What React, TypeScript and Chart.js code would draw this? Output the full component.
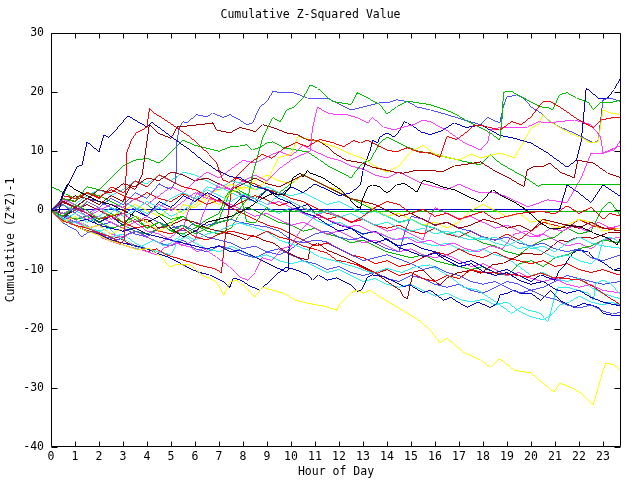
import React, { useEffect, useRef } from 'react';
import { Chart, registerables } from 'chart.js';
Chart.register(...registerables);

type P = [number, number];

const titleText = 'Cumulative Z-Squared Value';
const xTitle = 'Hour of Day';
const yTitle = 'Cumulative (Z*Z)-1';
const xTicks = [0, 1, 2, 3, 4, 5, 6, 7, 8, 9, 10, 11, 12, 13, 14, 15, 16, 17, 18, 19, 20, 21, 22, 23];
const yTicks = [-40, -30, -20, -10, 0, 10, 20, 30];

const navyEarly: P[] = [[0,0],[0.3,1],[0.7,4.3],[1.1,7.4],[1.3,7.7],[1.5,11.6],[2,9.9],[2.2,12.8],[2.4,12.3],[2.9,14.5],[3.2,16],[4,14.1],[4.2,14.9],[5.2,11.9],[5.8,10.2],[6.3,8.5],[6.9,6.8],[7.5,5.7],[7.9,5.5],[8.4,4.2],[9,3.5],[9.5,2],[10,1.2],[10.5,-0.3],[11,-1],[11.5,-2.3],[12,-3.5],[12.5,-3],[13,-4.6],[13.5,-5.5],[14,-4.8],[14.5,-6.3],[15,-7],[15.5,-7.8],[16,-7.2],[16.5,-8.5],[17,-9.5],[17.5,-9],[18,-10.3],[18.5,-11],[19,-10.5],[19.5,-11.8],[20,-12.5],[20.5,-12],[21,-13.3],[21.5,-14],[22,-13.5],[22.5,-14.7],[23,-15.5],[23.75,-16.2]];
const navyTop: P[] = [[0,0],[0.5,-1.5],[1,0.5],[1.5,-0.5],[2,-2],[2.5,-1],[3,-2.5],[3.5,0],[4,-1],[4.5,1.5],[5,0.5],[5.5,2.5],[6,1.5],[6.5,3],[7,2],[7.5,0.5],[8,2.5],[8.5,1.5],[9,3.5],[9.5,2.5],[10,4],[10.5,3],[11,4.5],[11.5,3.5],[12,2.5],[12.5,3],[12.9,4.3],[13,6.8],[13.3,10.2],[13.4,11.9],[13.6,11.4],[13.7,12.4],[14,13.1],[14.3,12.4],[14.55,13.6],[14.7,15],[14.85,14.8],[15.1,14.2],[15.4,13.3],[15.8,12.8],[16.3,13.5],[16.8,14.8],[17.3,14],[17.9,14.5],[18.7,12.7],[19.3,12.2],[20,11.4],[20.7,9.7],[21.5,7.3],[21.9,8.5],[22.1,11.9],[22.3,20.7],[22.8,19],[23.2,19],[23.45,20.4],[23.75,22.5]];
const greenTop: P[] = [[0,0],[0.5,-1],[1,1],[1.5,0],[2,-1.5],[2.5,-0.5],[3,-2],[3.5,-1],[4,-3],[4.5,-2],[5,-3.5],[5.5,-2.5],[6,-4],[6.5,-3],[7,-2],[7.5,-1.5],[7.9,0.5],[8.2,2],[8.4,6],[8.6,9],[8.83,12.4],[9.25,15.7],[9.55,15],[9.83,17],[10.1,17.4],[10.5,19],[10.8,21.2],[11.1,20.7],[11.5,19.2],[11.75,18.4],[12.5,17.9],[12.75,19.9],[13.2,19],[13.7,17.9],[14,16.3],[14.4,17.5],[14.85,18.5],[15.25,18.2],[15.8,17.9],[16.3,17.2],[16.8,16.4],[17.3,15.2],[17.9,14],[18.3,13.1],[18.7,11.9],[18.8,15.7],[18.85,19.9],[19,20.2],[19.2,20.1],[19.7,19],[20.4,17.5],[20.7,17.4],[20.9,17],[21.2,19.6],[21.5,19.9],[21.9,19],[22.4,18.2],[22.6,17],[22.9,18.2],[23.3,18.2],[23.75,18.7]];
const lightBlueTop: P[] = [[0,0],[0.5,1],[1,-0.5],[1.5,1.5],[2,0.5],[2.5,2],[3,1],[3.5,3],[4,2],[4.5,4.5],[5,3.5],[5.2,5],[5.25,11.9],[5.36,14.1],[5.5,15],[5.65,14.8],[6.07,16.2],[6.5,15.8],[6.74,16.5],[7.16,15.7],[7.45,16.2],[7.87,15.3],[8.15,14.5],[8.4,14.8],[8.7,17.5],[9,18.4],[9.25,20.2],[9.55,19.9],[10.1,19.9],[10.7,19],[11.5,19],[11.9,18.2],[12.5,17],[13,17.5],[13.7,18.2],[14,18.2],[14.4,18.7],[14.85,18.4],[15.25,17.5],[15.8,17],[16.5,16.2],[17.2,15.3],[17.9,14.5],[18.2,15.7],[18.4,15.3],[18.7,14.8],[18.85,17.6],[19,19.2],[19.4,19.5],[19.7,19],[20,17.5],[20.4,16.5],[20.7,15.3],[21.2,14.1],[21.8,13.1],[22.2,12.3],[22.6,11.4],[22.8,11.9],[22.9,15.3],[23,18.7],[23.3,19],[23.75,18.4]];
const yellowTop: P[] = [[0,0],[0.5,-2],[1,-1],[1.5,-3],[2,-2.5],[2.5,-4],[3,-3],[3.5,-1],[4,-2],[4.5,-3.5],[5,-2.5],[5.5,1],[6,0.5],[6.5,2],[7,1],[7.5,3],[8,4],[8.5,3.5],[9,5],[9.5,9],[10,9.5],[10.3,12.5],[10.8,12],[11.5,11.2],[12,10.5],[12.5,9.5],[13,8.8],[13.5,7.5],[14,6.5],[14.5,7.5],[15,10],[15.5,11],[16,9.5],[16.5,9],[17,8.5],[17.5,9.5],[17.9,8.9],[18.4,9.4],[18.7,9.7],[19.3,8.9],[19.7,11.6],[20,14],[20.3,14.5],[20.5,16.2],[20.8,15],[21.5,13.3],[22.1,12.3],[22.5,11.4],[22.8,11.6],[23,17],[23.3,16.5],[23.75,16.2]];
const redTop: P[] = [[0,0],[0.2,-0.8],[0.5,-1.8],[1,-2.5],[1.5,-3],[2,-3.8],[2.5,-4.5],[2.9,-5.6],[3.05,-5],[3.1,2],[3.15,9.7],[3.35,11.9],[3.55,13.1],[3.8,13.6],[4,14.1],[4.1,17.2],[4.25,16.6],[4.65,15.6],[5.2,14.1],[5.8,12.4],[6.2,11],[6.6,9.4],[6.9,8],[7.15,5.2],[7.45,4.7],[7.9,6.4],[8.3,8],[8.8,9.5],[9.2,8.8],[9.7,10.5],[10.2,11.5],[10.7,10.8],[11.2,12],[11.7,11.5],[12.2,10.8],[12.6,11.8],[12.9,11.4],[13.2,11.9],[13.4,11.4],[13.7,10.8],[14,10.2],[14.4,9.9],[14.85,10.6],[15.3,9.9],[15.8,9.7],[16.2,9],[16.5,12.5],[16.9,12],[17.3,13.2],[17.6,14.3],[17.9,14.4],[18.2,14.1],[18.7,13.6],[19.2,15],[19.6,14.5],[20,15.8],[20.5,18.4],[20.8,18.4],[21.2,17.5],[21.8,15.8],[22.2,14.8],[22.6,14],[22.9,15.3],[23.45,15.7],[23.75,15.8]];
const darkRedTop: P[] = [[0,0],[0.5,1.5],[1,0.5],[1.5,2],[2,1],[2.5,2.5],[3,1.5],[3.3,4],[3.5,3.5],[3.8,6],[4.1,14.5],[4.5,13],[5,12.2],[5.25,14.1],[6.2,14.5],[6.75,14.8],[6.9,13.6],[7.45,13.1],[7.87,14],[8.3,13.6],[8.5,13.3],[8.83,14.5],[9.25,14],[9.83,13.1],[10.25,12.8],[10.7,11.9],[11.1,11.9],[11.5,10.8],[11.9,9.4],[12.3,8.5],[12.75,8.2],[13,8],[13.4,7.3],[14,6.8],[14.4,6.4],[14.7,6.3],[15.25,6.8],[15.8,6.8],[16.3,6.5],[16.8,7.5],[17.3,7.8],[17.9,8.2],[18.4,6.9],[19.2,5.2],[19.7,4],[19.85,6.9],[20.1,7.4],[20.5,7.4],[20.8,8],[21.2,6.5],[21.8,5.5],[21.95,8.5],[22.6,8],[23.2,6.3],[23.75,5.5]];
const magentaTop: P[] = [[0,0],[0.5,1.8],[1,1],[1.5,-0.5],[2,0.5],[2.5,-1.5],[3,-0.5],[3.5,-2],[4,-1],[4.5,1],[5,0],[5.5,1.5],[6,3],[6.5,2],[7,4.5],[7.5,3.5],[8,5],[8.5,6],[9,5],[9.5,7],[10,8.5],[10.5,9.5],[10.8,10],[10.9,14],[11.1,17.5],[11.5,16.5],[11.9,16.2],[12.3,16.2],[12.75,15.7],[13.2,14.8],[13.4,15.7],[13.85,14.1],[14.3,13.6],[14.7,14.1],[15.1,14.5],[15.5,15.3],[15.8,15],[16.5,13.5],[17.2,11.5],[17.9,10.2],[18.2,11.6],[18.3,13.6],[18.7,14],[19.3,14],[19.85,14.1],[20.3,15],[20.7,14.8],[21.8,15.3],[22.5,14.5],[22.9,12.4],[23,9.7],[23.45,10.2],[23.75,11.9]];
const magentaUpper: P[] = [[0,0],[0.5,-0.5],[1,0.5],[1.5,-1],[2,0],[2.5,1],[3,0.5],[3.5,2],[4,1],[4.5,2.5],[5,4],[5.5,3],[6,5],[6.5,6.5],[7,5.5],[7.5,7],[8,8.5],[8.5,8],[9,9],[9.5,10],[10,9.2],[10.5,11],[11,10],[11.5,9],[12,8.5],[12.5,7.5],[13,7],[13.5,6],[14,5.5],[14.5,6.5],[15,5.5],[15.5,4.5],[16,4],[16.5,3.5],[17,4.5],[17.5,3.5],[17.9,3],[18.4,3.1],[19,2.3],[19.85,0.6],[20.7,1.8],[21.5,1.3],[22.1,5.6],[22.5,9.7],[23,9.7],[23.75,11]];
const greenFlatHigh: P[] = [[0,0],[0.5,2],[1,1.5],[1.5,4],[2,3.5],[2.5,5.5],[3,7.5],[3.5,8.5],[4,8.8],[4.5,8],[5,9.8],[5.5,11.9],[6,11],[6.5,10.5],[7,10],[7.5,10.8],[7.87,10.9],[8.15,11.1],[8.4,10.2],[8.7,10.7],[9,11.4],[9.25,11.6],[9.7,10.6],[10.25,10.2],[10.7,9.9],[11.2,8.5],[11.6,7.4],[12.05,6.5],[12.5,5.5],[12.75,6.9],[13,8],[13.3,8.5],[13.7,11.4],[14,12.4],[14.4,11.6],[14.85,10.7],[15.4,9.9],[15.8,9.7],[16.5,9],[17.2,8.3],[17.9,7.7],[18.3,9.4],[18.7,8],[19.7,5.7],[20.3,4.1],[20.5,4.4],[23.75,4.4]];
const greenFlatZero: P[] = [[0,4],[0.3,3.5],[0.6,2.8],[1,2],[1.5,3],[2,2.5],[2.5,1.5],[3,0.5],[3.5,2],[4,1],[4.5,-0.5],[5,-1.5],[5.5,-1],[6,-2.5],[6.5,-3],[7,-1.5],[7.5,3.5],[7.87,3],[8.15,-1.9],[8.5,-2.1],[9,0.6],[9.05,-0.1],[23.75,-0.1]];
const navyZero: P[] = [[0,0.2],[21.2,0.2],[21.5,4.3],[21.95,3.1],[22.5,1.3],[23,4.3],[23.75,2.3]];
const blackMid: P[] = [[0,0],[0.3,-1],[0.5,3],[0.7,4.5],[1,3.5],[1.5,2.5],[2,1.5],[2.5,1],[3,0],[3.5,-1],[4,-2],[4.5,-1],[5,-3],[5.5,-4.5],[6,-3.5],[6.5,-2],[7,-1.5],[7.5,-1],[7.87,-0.3],[8.3,0.6],[8.7,1.8],[9.25,2.9],[9.7,2.6],[9.95,3.9],[10.1,5.6],[10.4,6.3],[10.5,5.6],[10.7,6.8],[10.8,6.3],[11.3,5.6],[12.05,3.6],[12.75,0.6],[12.9,0.4],[13,2.1],[13.2,4],[13.4,4.3],[13.7,4],[14,2.9],[14.4,4.3],[14.7,4.6],[15,3.8],[15.25,3.1],[15.5,5.1],[15.8,4.8],[16.3,4],[16.8,3.5],[17.3,2.5],[17.9,1.4],[18.4,3.5],[18.85,2.3],[19.3,1.4],[19.7,0.4],[20.4,-2.1],[20.8,-3.1],[21.2,-3.1],[21.5,-2.5],[22.1,-2.8],[22.6,-3.8],[23.2,-4.7],[23.6,-5.8],[23.75,-4.5]];
const cyanMid: P[] = [[0,0],[0.5,-1.5],[1,-0.5],[1.5,-2],[2,-1],[2.5,0.5],[3,-1],[3.5,0],[4,1.5],[4.5,0.5],[5,2],[5.5,3],[6,2],[6.5,3.5],[7,2.5],[7.5,1.5],[8,2.8],[8.5,2],[9,1],[9.5,2.5],[10,1.5],[10.5,0.5],[11,-0.5],[11.5,-0.2],[12,-1.2],[12.5,-0.5],[13,-1.5],[13.5,-2.5],[14,-2],[14.5,-3],[15,-3.5],[15.5,-3],[16,-4],[16.5,-3.5],[17,-4.5],[17.5,-5],[18,-4.5],[18.5,-5.5],[19,-6],[19.5,-5],[20,-6.5],[20.5,-6],[21,-7],[21.5,-5.5],[22,-4.5],[22.5,-5.5],[23,-6],[23.75,-6.4]];
const cyanLow: P[] = [[0,0],[0.4,-1],[0.8,-2.2],[1.2,-1.8],[1.6,-3],[2,-3.5],[2.4,-3],[2.8,-4.5],[3.2,-5.2],[3.6,-6.5],[3.9,-5.8],[4.3,-5],[4.7,-6],[5,-5.5],[5.5,-4],[6,-5],[6.5,-4],[7,-3.5],[7.5,-2.5],[7.87,-2.1],[8.4,-2.8],[9,-3.6],[9.5,-5],[10.1,-5.8],[10.7,-6.7],[11.2,-7.9],[12,-8.7],[12.75,-9.7],[13.4,-10.6],[14,-9.8],[14.6,-10.5],[15.2,-9.5],[15.8,-9.2],[16.65,-11.3],[17.2,-13],[17.8,-13.5],[18.6,-15.7],[19.2,-17.4],[19.6,-16.3],[19.85,-16.8],[20.4,-17.4],[20.7,-18.9],[20.95,-15.2],[21.1,-13.1],[21.5,-13],[21.95,-13.5],[22.4,-14],[22.6,-15.2],[22.7,-12.3],[23,-11.8],[23.3,-12.3],[23.75,-14.3]];
const cyanUpper: P[] = [[0,0],[0.5,1],[1,0],[1.5,-1],[2,0.5],[2.5,-0.5],[3,1.5],[3.5,0.5],[4,-0.5],[4.5,0.5],[5,-1],[5.5,0],[6,1.5],[6.5,4],[7,3.5],[7.5,5],[8,4.5],[8.5,3.5],[9,4],[9.5,3],[10,2.5],[10.5,3],[11,2],[11.5,1],[12,1.5],[12.5,0.5],[13,-0.5],[13.5,-0.2],[14,-1],[14.5,-2],[15,-1.5],[15.5,-2.5],[16,-3],[16.5,-4],[17,-3.5],[17.5,-4.5],[18,-5],[18.5,-4.5],[19,-5.5],[19.5,-6.5],[20,-6],[20.5,-7],[21,-8],[21.5,-7.5],[22,-8.5],[22.5,-9],[22.8,-8],[23,-5],[23.3,-4.5],[23.75,-5.5]];
const cyanLowLeft: P[] = [[0,0],[0.5,-1.5],[1,-2],[1.5,-3],[2,-3.5],[2.5,-4.5],[3,-4],[3.5,-5.5],[4,-6.5],[4.5,-7],[5,-7.5],[5.3,-5],[5.6,-4.5],[6,-5.5],[6.5,-6.5],[7,-7],[7.5,-6],[8,-7],[8.5,-8],[9,-7.5],[9.5,-8.5],[10,-9],[10.5,-8.5],[11,-9.5],[11.5,-10.5],[12,-10],[12.5,-11],[13,-12],[13.5,-11.5],[14,-12.5],[14.5,-13],[15,-12.5],[15.5,-13.5],[16,-14.5],[16.5,-14],[17,-15],[17.5,-15.5],[18,-15],[18.5,-16],[19,-15.5],[19.5,-17],[20,-18],[20.5,-18.5],[20.9,-17.5],[21.2,-16],[21.6,-15.5],[22,-14.5],[22.5,-15.5],[23,-16],[23.3,-15.5],[23.75,-16]];
const redLow: P[] = [[0,0],[0.5,1.5],[1,0.5],[1.5,-0.5],[2,-1.5],[2.5,-1],[3,-2],[3.5,-3],[4,-2.5],[4.5,-3.5],[5,-4],[5.5,-3],[6,-4.5],[6.5,-5],[7,-4],[7.5,-3.5],[8,-4],[8.5,-4.5],[9,-3.5],[9.5,-4.5],[10,-5],[10.5,-6],[11.1,-6.7],[11.5,-7.2],[11.9,-8.4],[12.3,-8.7],[12.75,-9.2],[13.2,-10.1],[13.6,-10.6],[14,-10],[14.5,-11],[15,-10.5],[15.5,-11.5],[16,-12],[16.5,-11],[17,-11.5],[17.5,-10],[18,-10.5],[18.6,-10.6],[19.3,-10.9],[19.85,-11.3],[20.4,-10.6],[20.95,-11.4],[21.2,-11.4],[22.1,-11.8],[22.6,-12.9],[23.2,-14.6],[23.75,-16]];
const darkRedLow: P[] = [[0,0],[0.5,-1],[1,0],[1.5,1],[2,0],[2.5,-1],[3,-0.5],[3.5,-2],[4,-1.5],[4.5,-3],[5,-2.5],[5.5,-1.5],[6,-2],[6.5,-3],[7,-3.5],[7.5,-4],[7.87,-4.5],[8.15,-5],[8.4,-4.2],[8.83,-5],[9.25,-5.5],[9.8,-7],[10.25,-7.9],[10.7,-8.4],[10.8,-6.2],[11.1,-5.5],[11.5,-6.7],[12,-7.5],[12.5,-8.5],[13,-9.5],[13.5,-10.5],[14,-12],[14.55,-13.5],[14.7,-14.7],[14.85,-14.9],[14.95,-13],[15.1,-10.4],[15.5,-10.1],[15.8,-11.3],[16.2,-12.6],[16.5,-11.4],[16.9,-10.6],[17.5,-10.1],[17.9,-10.6],[18.4,-9.2],[18.85,-8.9],[19.3,-8],[19.7,-7.2],[20.4,-7.5],[20.7,-6.7],[20.95,-5.8],[21.2,-5],[21.5,-5.3],[21.8,-4.7],[22.1,-4.5],[22.6,-4.7],[23.2,-3.8],[23.75,-3.8]];
const redNearZero: P[] = [[0,0],[0.3,1],[0.5,2.5],[1,2],[1.5,3],[2,2.2],[2.5,3.5],[3,2.5],[3.5,1.8],[4,3],[4.5,2],[5,1.5],[5.5,2.8],[6,2],[6.5,1],[7,1.8],[7.5,0.5],[8,1.5],[8.5,2.5],[9,1.8],[9.5,0.8],[10,1.5],[10.5,0.5],[11,-0.5],[11.5,-1.5],[12,-1],[12.5,-2],[13,-1],[13.5,0.5],[14,1.5],[14.5,1],[15,-0.5],[15.5,0.2],[16,-1],[16.5,-0.5],[17,-1.5],[17.5,-0.8],[18,-0.2],[18.5,-1.5],[19,-1],[19.5,-0.5],[20,-0.3],[20.5,-0.2],[21,-0.6],[21.5,0.8],[22,-0.5],[22.5,0.5],[23,-1.5],[23.3,-0.5],[23.75,-1]];
const redJump: P[] = [[0,0],[0.4,-1.5],[0.8,-2],[1.2,-3],[1.6,-3.5],[2,-4],[2.4,-5],[2.8,-4.5],[3.2,-5.5],[3.6,-6],[4,-7],[4.4,-6.5],[4.8,-7.5],[5.2,-8],[5.6,-8.5],[6,-9],[6.4,-9.5],[6.8,-9.8],[7.1,-10.5],[7.3,-3],[7.5,3],[7.7,5.5],[8,5],[8.5,4.5],[9,3.5],[9.5,3],[10,2],[10.5,1.5],[11,0.5],[11.5,-0.5],[12,-1],[12.5,-2],[13,-1.5],[13.5,-2.5],[14,-3],[14.5,-2.5],[15,-3.5],[15.5,-4],[16,-3],[16.5,-4],[17,-4.5],[17.5,-3.5],[18,-4.5],[18.5,-5],[19,-4],[19.5,-5],[20,-3.5],[20.5,-2],[21,-2.5],[21.5,-3],[22,-1.5],[22.5,-2.5],[23,-3],[23.75,-3]];
const lightBlueLow: P[] = [[0,0],[0.5,-2.1],[0.8,-2.8],[1.05,-3.3],[1.27,-4.5],[1.5,-3.8],[1.9,-3.6],[2.3,-4.5],[2.8,-5],[3.2,-4],[3.6,-3.5],[4,-4.5],[4.5,-3],[5,-2.5],[5.5,-3.5],[6,-2],[6.5,-2.5],[7,-2],[7.5,-1.5],[7.87,-2],[8.5,-2.5],[9,-2.8],[9.5,-3.5],[10,-5],[10.5,-5.5],[11,-5],[11.5,-5.3],[12,-6.5],[12.5,-7.5],[13,-8.5],[13.5,-8],[14,-7.5],[14.5,-8.2],[15,-9],[15.5,-10],[16,-9.5],[16.5,-10.5],[17,-11],[17.5,-12],[18,-12.5],[18.5,-12],[19,-13],[19.5,-14],[20,-13.5],[20.5,-14.5],[21,-15],[21.5,-16],[22,-16.5],[22.5,-16],[23,-17],[23.4,-17.5],[23.75,-17.2]];
const lightBlueMid: P[] = [[0,0],[0.5,1.5],[1,0.5],[1.5,2],[2,1.5],[2.5,0.5],[3,-0.5],[3.5,0.5],[4,-1],[4.5,-2],[5,-3],[5.5,-2.5],[6,-3.5],[6.5,-4.5],[7,-5],[7.5,-5.5],[8,-6.5],[8.5,-6],[9,-7],[9.5,-7.5],[10,-6.5],[10.5,-5],[11,-4],[11.5,-3.5],[12,-4.5],[12.5,-5],[13,-4.5],[13.5,-5.5],[14,-6.5],[14.5,-7],[14.8,-3],[15,-1],[15.5,-1.5],[16,-2.5],[16.5,-2],[17,-3],[17.5,-3.5],[18,-4.5],[18.5,-5],[19,-4.5],[19.5,-5.5],[20,-6],[20.5,-5.5],[21,-6.5],[21.5,-7],[22,-6.5],[22.5,-8],[23,-8.5],[23.75,-7.5]];
const magentaLow: P[] = [[0,0],[0.5,-1],[1,-2],[1.5,-2.5],[2.15,-4.7],[2.7,-5.5],[3.3,-6.2],[3.8,-6.7],[4.4,-7.5],[4.7,-6.4],[5.2,-5.5],[5.8,-6.2],[6.1,-7],[6.35,-6.4],[6.9,-7.9],[7.45,-9.6],[7.9,-11.3],[8.2,-11.8],[8.5,-10.5],[8.8,-8],[9.2,-8.5],[9.6,-6.5],[10,-6],[10.4,-3.3],[10.7,-2.1],[10.9,-1.3],[11.3,-1.1],[11.8,-2],[12.3,-2.8],[12.8,-2.5],[13.3,-3.5],[13.8,-4],[14.3,-5],[14.8,-4.5],[15.3,-5.5],[15.8,-5],[16.3,-6],[16.8,-5.5],[17.3,-6.5],[17.8,-7],[18.3,-6],[18.8,-6.5],[19.3,-4],[19.8,-3.5],[20.3,-4.5],[20.8,-3],[21.3,-3.5],[21.8,-2.5],[22.3,-3.5],[22.8,-2],[23.3,-3],[23.75,-2.5]];
const magentaDown: P[] = [[0,0],[0.5,1],[1,-0.5],[1.5,-1.5],[2,-1],[2.5,-2],[3,-3],[3.5,-2],[4,-3.5],[4.5,-4],[5,-5],[5.5,-6],[6,-5],[6.3,-1],[6.6,2],[7,1.5],[7.5,1],[8,0],[8.5,-1],[9,-0.5],[9.5,-1.5],[10,-2.5],[10.5,-2],[11,-3],[11.5,-4],[12,-3.5],[12.5,-4.5],[13,-5.5],[13.5,-5],[14,-6],[14.5,-7],[15,-6.5],[15.5,-7.5],[16,-8],[16.5,-7.5],[17,-8.5],[17.5,-9.5],[18,-9],[18.5,-10],[19,-11],[19.5,-10.5],[20,-11.5],[20.5,-12],[21,-11.5],[21.5,-12.5],[22,-13],[22.5,-12.5],[23,-13.5],[23.75,-14]];
const greenLow: P[] = [[0,0],[0.5,-1],[1,0.5],[1.5,-0.5],[2,-2],[2.5,-1],[3,-2.5],[3.5,-1.5],[4,-3],[4.5,-2],[5,-3.5],[5.5,-4],[6,-3],[6.5,-1.5],[7,-0.5],[7.3,2.5],[7.6,4],[8,3],[8.5,2],[9,3.5],[9.5,3],[10,4.5],[10.5,6],[11,5],[11.5,4],[12,3],[12.5,2],[13,1],[13.5,0],[14,-1],[14.5,-2],[15,-1.5],[15.5,-2.5],[16,-3],[16.5,-4],[17,-3.5],[17.5,-4.5],[18,-5.5],[18.5,-6],[19,-7],[19.5,-7.5],[20,-6],[20.5,-5],[21,-4.5],[21.5,-3],[22,-4],[22.5,-3.5],[23,0.5],[23.3,1.5],[23.75,-1]];
const yellowMid: P[] = [[0,0],[0.5,1],[1,0],[1.5,1.5],[2,0.5],[2.5,-1],[3,0],[3.5,1],[4,0],[4.5,-1],[5,0.5],[5.5,-0.5],[6,1],[6.5,2.5],[7,3.5],[7.5,4.5],[8,3.5],[8.5,5],[9,6],[9.5,5],[10,4.5],[10.5,6],[11,5],[11.5,4],[12,3.5],[12.5,2],[13,1.5],[13.5,0],[14,-1],[14.5,-0.5],[15,-1.5],[15.5,-2.5],[16,-2],[16.5,-3],[17,-2],[17.5,0],[18,1],[18.5,0],[19,-1],[19.5,-0.5],[20,-2],[20.5,-1.5],[21,-3],[21.5,-2.5],[22,-1.5],[22.5,-2],[23,-3.5],[23.75,-3]];
const yellowBottom: P[] = [[0,0],[0.3,-1],[0.7,-2],[1,-2.5],[1.5,-3.5],[2,-4.2],[2.4,-5],[3,-5.8],[3.6,-6.7],[4.1,-6.4],[4.65,-8.1],[4.95,-9.6],[5.2,-9.2],[5.8,-9.2],[6.3,-10.9],[6.9,-12.1],[7.2,-14.3],[7.45,-12.1],[7.75,-11.8],[7.9,-12.3],[8.5,-14.6],[8.8,-13],[9.7,-14],[10.2,-15.2],[10.7,-15.7],[11.5,-16.3],[11.9,-16.9],[12.05,-15.7],[12.5,-14],[12.75,-13.5],[13,-14],[13.3,-13.5],[13.7,-14.6],[14.4,-16.3],[15.3,-18.5],[15.8,-20.2],[16.2,-22.4],[16.5,-21.6],[17.2,-24],[17.9,-25.3],[18.3,-26.5],[18.7,-25.1],[19.3,-27],[20,-27.5],[20.5,-29.2],[20.95,-30.7],[21.2,-29.2],[21.65,-29.9],[22.1,-30.9],[22.5,-32.5],[22.6,-32.8],[22.9,-28.5],[23.1,-25.9],[23.4,-26],[23.75,-27]];
const navyLow: P[] = [[0,0],[0.5,-1.5],[1,-2.5],[1.5,-3.5],[2,-4],[2.5,-5],[3,-5.5],[3.5,-6],[4,-6.5],[4.4,-7.2],[4.95,-8],[5.5,-9.2],[6.1,-10.4],[6.6,-10.9],[7.2,-12.1],[7.45,-13],[7.6,-11.4],[7.9,-11.8],[8.3,-12.8],[8.7,-13.5],[9.1,-12],[9.5,-10.5],[9.8,-9.6],[10.25,-10.1],[10.7,-10.9],[10.9,-11.8],[11.15,-10.9],[11.5,-11.8],[11.9,-11.4],[12.5,-12.6],[12.75,-13.7],[12.95,-13.4],[13.2,-11.2],[13.4,-10.9],[13.85,-11.2],[14.4,-12.2],[14.7,-12.9],[14.95,-12.6],[15.5,-13.9],[15.8,-13.5],[16.2,-14.7],[16.35,-15.2],[16.65,-14.7],[17.05,-15.7],[17.35,-16.4],[17.8,-15.5],[18.3,-16.4],[18.6,-15.7],[18.7,-14.3],[19,-14],[19.3,-13.5],[19.6,-14],[20,-14],[20.4,-15.2],[20.8,-13.5],[21.2,-15.2],[21.8,-16.4],[22.2,-15.7],[22.8,-16.4],[23,-17.4],[23.45,-17.8],[23.75,-17.8]];
const navyDip: P[] = [[0,0],[0.5,-1],[1,-2],[1.5,-1.5],[2,-2.5],[2.5,-3],[3,-3.5],[3.5,-3],[4,-4],[4.5,-4.5],[5,-5],[5.5,-5.5],[6,-6],[6.5,-6.5],[7,-6],[7.5,-7],[7.87,-6.7],[8.3,-7.5],[8.8,-8.5],[9.3,-9.5],[9.8,-10.4],[9.9,-10],[9.95,0],[10.3,0.5],[10.7,1],[11,-0.5],[11.5,-1.5],[12,-2.5],[12.5,-3],[13,-4],[13.5,-3.5],[14,-5],[14.5,-6],[15,-5.5],[15.5,-6.5],[16,-7],[16.5,-8],[17,-9],[17.5,-8.5],[18,-9.5],[18.5,-10.5],[19,-10],[19.5,-11],[20,-12],[20.4,-10.9],[21,-11.8],[21.15,-10.4],[21.4,-9.2],[21.6,-8],[21.75,-7.2],[21.95,-6.7],[22.4,-7],[22.6,-8],[23,-8.8],[23.45,-10.1],[23.75,-9.7]];
const redMid: P[] = [[0,0],[0.5,2],[1,1.5],[1.5,3],[2,2],[2.5,4],[3,3],[3.5,5],[4,4],[4.5,6],[5,5],[5.5,4],[6,3.5],[6.5,2.5],[7,1.5],[7.5,0.5],[8,-0.5],[8.5,-1.5],[9,-2.5],[9.5,-3],[10,-4],[10.5,-5],[11,-6],[11.5,-5.5],[12,-6.5],[12.5,-7.5],[13,-8],[13.5,-9],[14,-8.5],[14.5,-9.5],[15,-9],[15.5,-8],[16,-7],[16.5,-7.5],[17,-6.5],[17.5,-7.5],[18,-8],[18.5,-7],[19,-8],[19.5,-8.5],[20,-9],[20.5,-8.5],[21,-9.5],[21.5,-9],[22,-10],[22.5,-10.5],[23,-10],[23.75,-11]];
const darkRedMid: P[] = [[0,0],[0.5,1],[1,2.5],[1.5,2],[2,3.5],[2.5,3],[3,4.5],[3.5,4],[4,5.5],[4.5,5],[5,6.5],[5.5,6],[6,5],[6.5,5.5],[7,4.5],[7.5,3.5],[8,4.5],[8.5,5.5],[9,4.5],[9.5,4],[10,5],[10.5,6],[11,5],[11.5,4],[12,3],[12.5,2],[13,1.5],[13.5,1],[14,0],[14.5,-1],[15,-0.5],[15.5,-1.5],[16,-2.5],[16.5,-2],[17,-3],[17.5,-2.5],[18,-1.5],[18.5,-2],[19,-3],[19.5,-2.5],[20,-3.5],[20.5,-1.5],[21,-2],[21.5,-2.5],[22,-3],[22.5,-2],[23,-3],[23.75,-3.5]];
const cyanDown: P[] = [[0,0],[0.5,2],[1,1],[1.5,2.5],[2,3.5],[2.5,2.5],[3,3.5],[3.5,5],[4,4.5],[4.5,6],[5,5],[5.5,6.5],[6,6],[6.5,5],[7,4],[7.5,3],[8,2],[8.5,1.5],[9,0.5],[9.5,-0.5],[10,0.5],[10.5,-0.5],[11,-1.5],[11.5,-2.5],[12,-2],[12.5,-3],[13,-4],[13.5,-3.5],[14,-4.5],[14.5,-5],[15,-4.5],[15.5,-5.5],[16,-6],[16.5,-5.5],[17,-6.5],[17.5,-7],[18,-6.5],[18.5,-7.5],[19,-8],[19.5,-9.5],[20,-11],[20.5,-10.5],[21,-11.5],[21.5,-12],[22,-11.5],[22.5,-13],[23,-14],[23.75,-15]];
const magentaMid: P[] = [[0,0],[0.5,-1],[1,-1.5],[1.5,-3],[2,-2.5],[2.5,-4],[3,-4.5],[3.5,-3.5],[4,-4.5],[4.5,-5.5],[5,-4.5],[5.5,-3],[5.8,1],[6.1,3],[6.5,2.5],[7,4],[7.5,3.5],[8,2.5],[8.5,2],[9,1],[9.5,1.5],[10,0.5],[10.5,-0.5],[11,-1],[11.5,0],[12,-1],[12.5,-2],[13,-1.5],[13.5,-2.5],[14,-3.5],[14.5,-3],[15,-4],[15.5,-5],[15.8,-1],[16,0.5],[16.5,-0.5],[17,-1.5],[17.5,-1],[18,-2],[18.5,-3],[19,-2.5],[19.5,-3.5],[20,-4.5],[20.5,-4],[21,-5],[21.5,-6],[22,-5.5],[22.5,-6.5],[23,-5],[23.75,-4.5]];
const greenMid: P[] = [[0,0],[0.5,-0.5],[1,-1.5],[1.5,-1],[2,-2],[2.5,-3],[3,-2.5],[3.5,-3.5],[4,-4],[4.5,-3],[5,-2],[5.5,-1],[6,-2.5],[6.5,-3.5],[7,-4],[7.5,-3],[7.8,-1],[8.1,0.5],[8.5,0],[9,-1],[9.5,-2],[10,-2.5],[10.5,-3.5],[11,-3],[11.5,-4],[12,-4.5],[12.5,-5.5],[13,-5],[13.5,-6],[14,-7],[14.5,-7.5],[15,-8],[15.5,-7.5],[16,-8.5],[16.5,-9],[17,-9.5],[17.5,-10],[18,-9.5],[18.5,-10.5],[19,-11],[19.5,-9],[20,-8.5],[20.5,-9.5],[21,-8],[21.5,-7.5],[22,-6.5],[22.5,-6],[23,-5],[23.75,-5.5]];
const lightBlueDown: P[] = [[0,0],[0.5,-0.5],[1,-1.5],[1.5,-1],[2,-2.5],[2.5,-2],[3,-3],[3.5,-4],[4,-4.5],[4.5,-5.5],[5,-6],[5.5,-5],[6,-6.5],[6.5,-7],[7,-6],[7.5,-6.5],[8,-7.5],[8.5,-8],[9,-7],[9.5,-6.5],[10,-7.5],[10.5,-8.5],[11,-9],[11.5,-10],[12,-9.5],[12.5,-10.5],[13,-11],[13.5,-10.5],[14,-11.5],[14.5,-12],[15,-11],[15.5,-11.5],[16,-12.5],[16.5,-13],[17,-12.5],[17.5,-13.5],[18,-14],[18.5,-13],[19,-12],[19.5,-12.5],[20,-13.5],[20.5,-13],[21,-12],[21.5,-11],[22,-11.5],[22.5,-12],[23,-12.5],[23.75,-12]];

const RED = '#ff0000';
const GREEN = '#00c000';
const NAVY = '#0000c8';
const MAGENTA = '#ff40ff';
const CYAN = '#30f0f0';
const DARKRED = '#a00000';
const YELLOW = '#ffff00';
const BLACK = '#000000';
const LIGHTBLUE = '#5050ff';

const seriesList: { data: P[]; color: string }[] = [
  { data: redTop, color: RED },
  { data: greenTop, color: GREEN },
  { data: navyEarly, color: NAVY },
  { data: magentaTop, color: MAGENTA },
  { data: cyanMid, color: CYAN },
  { data: darkRedTop, color: DARKRED },
  { data: yellowTop, color: YELLOW },
  { data: blackMid, color: BLACK },
  { data: lightBlueTop, color: LIGHTBLUE },
  { data: redLow, color: RED },
  { data: greenFlatHigh, color: GREEN },
  { data: navyTop, color: NAVY },
  { data: magentaUpper, color: MAGENTA },
  { data: cyanLow, color: CYAN },
  { data: darkRedLow, color: DARKRED },
  { data: yellowBottom, color: YELLOW },
  { data: lightBlueLow, color: LIGHTBLUE },
  { data: redNearZero, color: RED },
  { data: greenFlatZero, color: GREEN },
  { data: navyLow, color: NAVY },
  { data: magentaLow, color: MAGENTA },
  { data: cyanUpper, color: CYAN },
  { data: darkRedMid, color: DARKRED },
  { data: yellowMid, color: YELLOW },
  { data: lightBlueMid, color: LIGHTBLUE },
  { data: redJump, color: RED },
  { data: greenLow, color: GREEN },
  { data: navyDip, color: NAVY },
  { data: magentaDown, color: MAGENTA },
  { data: cyanLowLeft, color: CYAN },
  { data: redMid, color: RED },
  { data: greenMid, color: GREEN },
  { data: magentaMid, color: MAGENTA },
  { data: cyanDown, color: CYAN },
  { data: lightBlueDown, color: LIGHTBLUE },
  { data: navyZero, color: NAVY },
];

const FONT = { family: '"DejaVu Sans Mono", "Liberation Mono", monospace', size: 11.5, weight: 'normal' as const };

const framePlugin = {
  id: 'frame',
  afterDraw(chart: any) {
    const { ctx, chartArea: a, scales } = chart;
    const x = scales.x;
    const y = scales.y;
    const L = Math.round(a.left) + 0.5;
    const R = Math.round(a.right) - 0.5;
    const T = Math.round(a.top) + 0.5;
    const B = Math.round(a.bottom) - 0.5;
    ctx.save();
    ctx.strokeStyle = '#000';
    ctx.lineWidth = 1;
    ctx.beginPath();
    ctx.rect(L, T, R - L, B - T);
    for (const v of xTicks) {
      const px = Math.round(x.getPixelForValue(v)) + 0.5;
      ctx.moveTo(px, B);
      ctx.lineTo(px, B - 5);
      ctx.moveTo(px, T);
      ctx.lineTo(px, T + 5);
    }
    for (const v of yTicks) {
      const py = Math.round(y.getPixelForValue(v)) + 0.5;
      ctx.moveTo(L, py);
      ctx.lineTo(L + 6, py);
      ctx.moveTo(R, py);
      ctx.lineTo(R - 6, py);
    }
    ctx.stroke();
    ctx.restore();
  },
};

// Build options shared by both layers so their chart areas coincide exactly.
function makeOptions(textColor: string): any {
  return {
    animation: false,
    responsive: false,
    devicePixelRatio: 1,
    layout: { padding: { left: 0, right: 19, top: 0, bottom: 0 } },
    plugins: {
      legend: { display: false },
      tooltip: { enabled: false },
      title: {
        display: true,
        text: titleText,
        color: textColor,
        font: FONT,
        padding: { top: 8, bottom: 11.2 },
      },
    },
    scales: {
      x: {
        type: 'linear',
        min: 0,
        max: 23.75,
        afterFit: (s: any) => { s.height = 33; },
        grid: { display: false, drawTicks: false },
        border: { display: false },
        ticks: {
          stepSize: 1,
          includeBounds: false,
          autoSkip: false,
          maxRotation: 0,
          color: textColor,
          font: FONT,
          padding: 3,
        },
        title: { display: true, text: xTitle, color: textColor, font: FONT, padding: { top: 0, bottom: 1 } },
      },
      y: {
        type: 'linear',
        min: -40,
        max: 30,
        afterFit: (s: any) => { s.width = 51; },
        grid: { display: false, drawTicks: false },
        border: { display: false },
        ticks: { stepSize: 10, color: textColor, font: FONT, padding: 7 },
        title: { display: true, text: yTitle, color: textColor, font: FONT, padding: { top: 4, bottom: 0 } },
      },
    },
  };
}

export default function App() {
  const linesRef = useRef<HTMLCanvasElement | null>(null);
  const axesRef = useRef<HTMLCanvasElement | null>(null);
  useEffect(() => {
    if (!linesRef.current || !axesRef.current) return;
    const lines = new Chart(linesRef.current, {
      type: 'line',
      data: {
        datasets: seriesList.map((s) => ({
          data: s.data.map(([h, v]) => ({ x: h, y: v })),
          borderColor: s.color,
          backgroundColor: s.color,
          borderWidth: 1,
          pointRadius: 0,
          tension: 0,
          fill: false,
        })),
      },
      options: makeOptions('rgba(0,0,0,0)'),
    });
    const axes = new Chart(axesRef.current, {
      type: 'line',
      data: { datasets: [] },
      options: makeOptions('#000'),
      plugins: [framePlugin],
    });
    return () => {
      lines.destroy();
      axes.destroy();
    };
  }, []);
  return (
    <div style={{ position: 'fixed', left: 0, top: 0, width: 640, height: 480, background: '#fff' }}>
      <svg width={0} height={0} style={{ position: 'absolute' }}>
        <filter id="crisp" colorInterpolationFilters="sRGB">
          <feComponentTransfer>
            <feFuncA type="discrete" tableValues="0 1" />
          </feComponentTransfer>
        </filter>
      </svg>
      <canvas ref={linesRef} width={640} height={480} style={{ position: 'absolute', left: 0, top: 0, width: 640, height: 480, filter: 'url(#crisp)' }} />
      <canvas ref={axesRef} width={640} height={480} style={{ position: 'absolute', left: 0, top: 0, width: 640, height: 480 }} />
    </div>
  );
}
